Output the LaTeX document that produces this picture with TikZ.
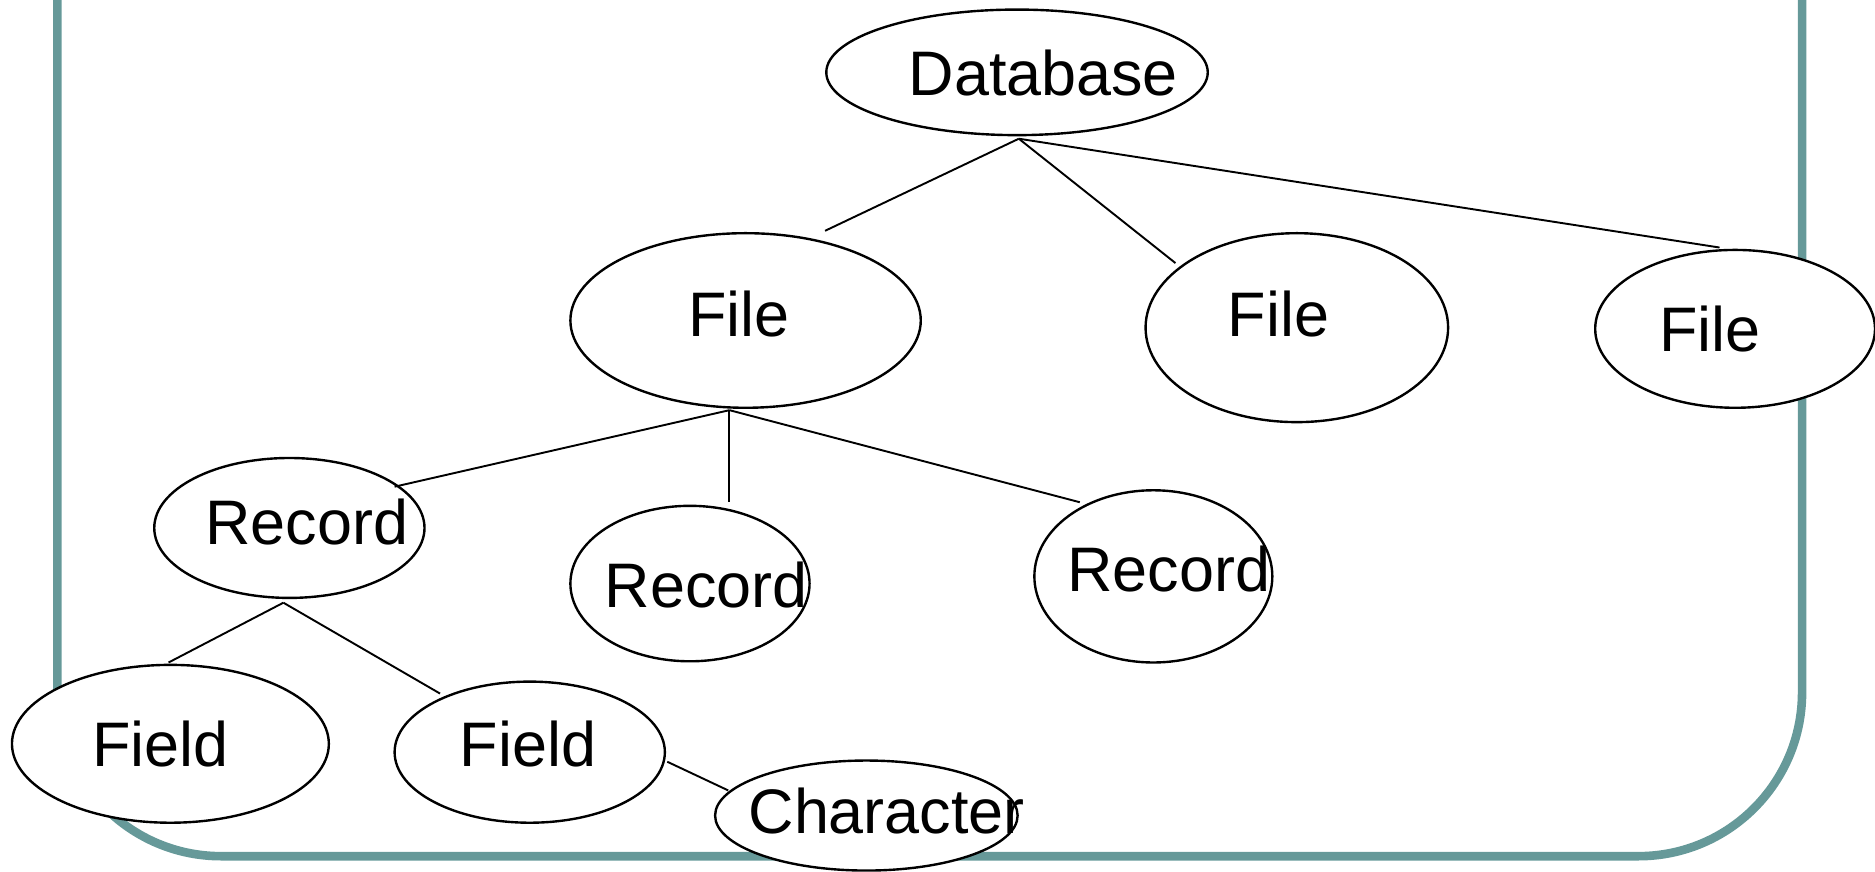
\documentclass[tikz,border=0pt]{standalone}
\usepackage{fontspec}
\setmainfont{Liberation Sans}
\usetikzlibrary{shapes.geometric}
\definecolor{frameteal}{HTML}{669999}
\begin{document}
\begin{tikzpicture}[x=0.5pt,y=-0.5pt,
  ell/.style={ellipse,draw=black,line width=1pt,fill=white,inner sep=0pt},
  txt/.style={inner sep=0pt,anchor=base,font=\fontsize{26.3pt}{30pt}\selectfont},
  conn/.style={draw=black,line width=0.8pt}]
\useasboundingbox (0,0) rectangle (1568,729);
% frame
\draw[frameteal,line width=3.6pt,rounded corners=68.5pt] (48,-200) rectangle (1507,716);
% ellipses
\node[ell,minimum width=159.5pt,minimum height=52.5pt] (db) at (850.5,60.5) {};
\node[ell,minimum width=146.5pt,minimum height=73pt] (f1) at (623.5,268) {};
\node[ell,minimum width=126.5pt,minimum height=79pt] (f2) at (1084.5,274) {};
\node[ell,minimum width=117pt,minimum height=66pt] (f3) at (1451,275) {};
\node[ell,minimum width=113pt,minimum height=58.5pt] (r1) at (242,441.5) {};
\node[ell,minimum width=100pt,minimum height=65pt] (r2) at (577,488) {};
\node[ell,minimum width=99.5pt,minimum height=72pt] (r3) at (964.5,482) {};
\node[ell,minimum width=132.5pt,minimum height=66pt] (d1) at (142.5,622) {};
\node[ell,minimum width=113pt,minimum height=59pt] (d2) at (443,629) {};
\node[ell,minimum width=126.5pt,minimum height=46pt] (ch) at (724.5,682) {};
% texts
\node[txt] (tdb) at (872.5,80) {Database};
\node[txt] (tf1) at (618,281) {File};
\node[txt] (tf2) at (1069,281) {File};
\node[txt] (tf3) at (1430,294) {File};
\node[txt] (tr1) at (256.5,455) {Record};
\node[txt] (tr2) at (590.5,508) {Record};
\node[txt] (tr3) at (977.5,495) {Record};
\node[txt] (td1) at (134,641) {Field};
\node[txt] (td2) at (441.5,641) {Field};
\node[txt] (tch) at (741.5,697) {Character};
% connector end points
\coordinate (dbB) at (852,116);
\coordinate (f1T) at (690,193);
\coordinate (f2T) at (983,220);
\coordinate (f3T) at (1438,207);
\coordinate (f1B) at (610,343);
\coordinate (r1T) at (330,407);
\coordinate (r2T) at (610,420);
\coordinate (r3T) at (903,420);
\coordinate (r1B) at (237,504);
\coordinate (d1T) at (141,554);
\coordinate (d2T) at (368,580);
\coordinate (d2R) at (558,637);
\coordinate (chL) at (609,661);
% connectors
\draw[conn] (dbB) -- (f1T);
\draw[conn] (dbB) -- (f2T);
\draw[conn] (dbB) -- (f3T);
\draw[conn] (f1B) -- (r1T);
\draw[conn] (f1B) -- (r2T);
\draw[conn] (f1B) -- (r3T);
\draw[conn] (r1B) -- (d1T);
\draw[conn] (r1B) -- (d2T);
\draw[conn] (d2R) -- (chL);
\end{tikzpicture}
\end{document}
